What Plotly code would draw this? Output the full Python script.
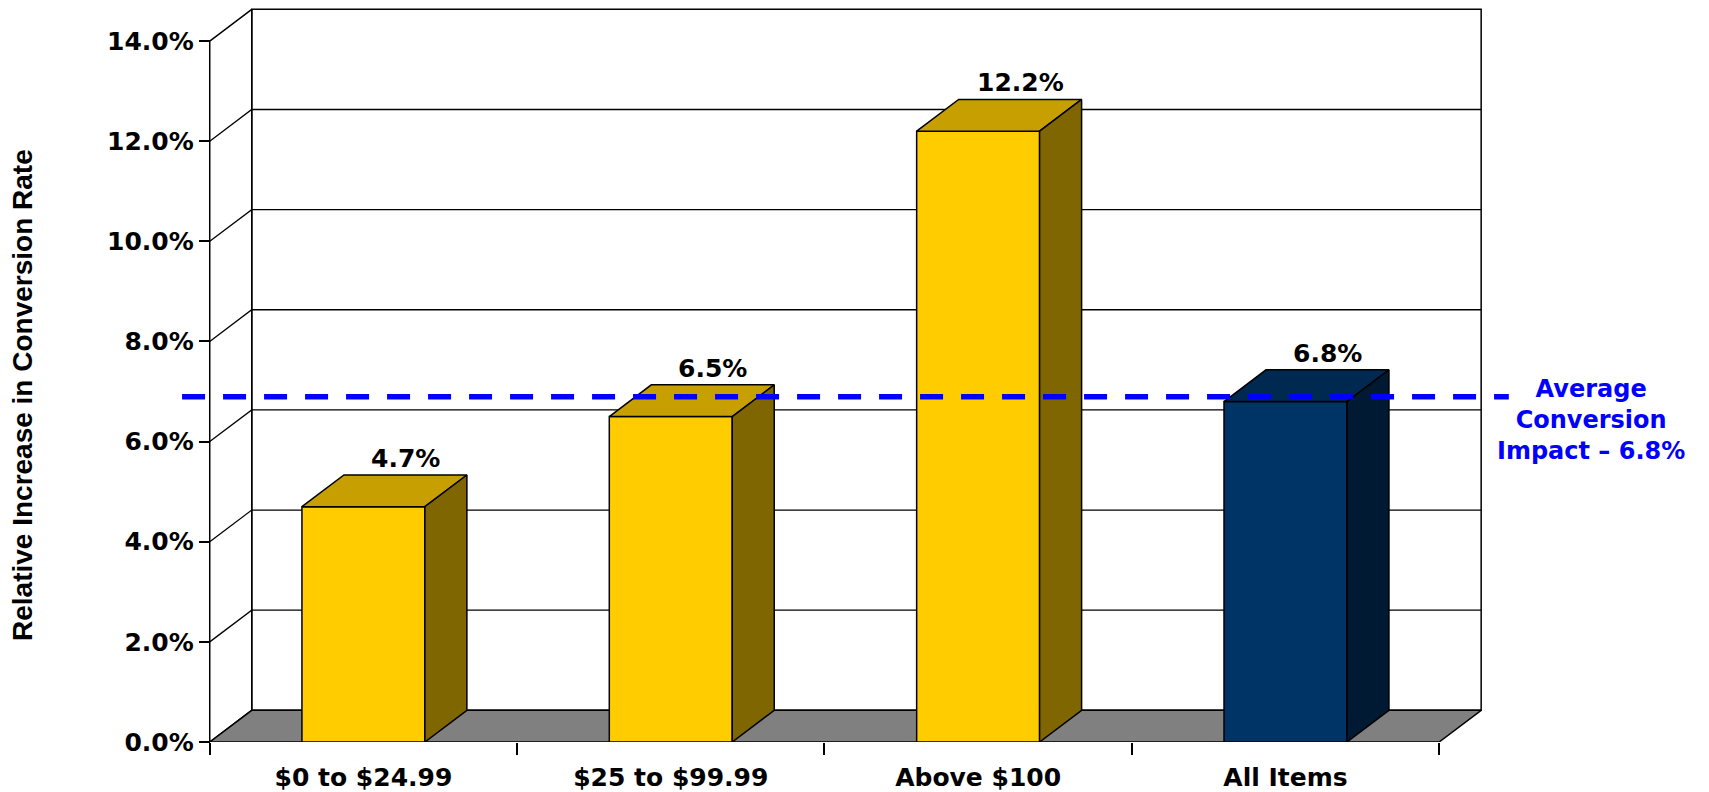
import plotly.graph_objects as go

# ---------------- data ----------------
CATEGORIES = ["$0 to $24.99", "$25 to $99.99", "Above $100", "All Items"]
VALUES = [4.7, 6.5, 12.2, 6.8]
VALUE_LABELS = ["4.7%", "6.5%", "12.2%", "6.8%"]
AVERAGE = 6.8
AVERAGE_LABEL = "Average<br>Conversion<br>Impact – 6.8%"
Y_TICKS = [0, 2, 4, 6, 8, 10, 12, 14]
Y_TITLE = "Relative Increase in Conversion Rate"

# ---------------- styles ----------------
FRONT = ["#FFCC00", "#FFCC00", "#FFCC00", "#003366"]
TOP = ["#C89F00", "#C89F00", "#C89F00", "#002952"]
SIDE = ["#806600", "#806600", "#806600", "#001A33"]
FLOOR = "#808080"
EDGE = dict(color="black", width=1.5)
FONT = "DejaVu Sans"

W, H = 1709, 792
ML, MR, MT, MB = 179, 193, 6, 50
XMIN, XMAX = -0.6, 3.75
YMIN, YMAX = 0, 14.7
PLOT_W = W - ML - MR
PLOT_H = H - MT - MB
PX_X = PLOT_W / (XMAX - XMIN)
PX_Y = PLOT_H / (YMAX - YMIN)
DX = 42 / PX_X          # depth offset in x units
DY = 31.7 / PX_Y        # depth offset in y units
BAR_W = 0.4
n = len(CATEGORIES)
XL, XR = -0.5, n - 0.5
TOPV = Y_TICKS[-1]

fig = go.Figure()


def poly(xs, ys, fill, line=EDGE):
    fig.add_trace(go.Scatter(
        x=list(xs) + [xs[0]], y=list(ys) + [ys[0]], mode="lines",
        fill="toself", fillcolor=fill, line=line, hoverinfo="skip",
        showlegend=False))


# back wall
poly([XL + DX, XR + DX, XR + DX, XL + DX], [DY, DY, TOPV + DY, TOPV + DY], "white")
# left wall
poly([XL, XL, XL + DX, XL + DX], [0, TOPV, TOPV + DY, DY], "white")
# gridlines on walls
gx, gy = [], []
for v in Y_TICKS[1:-1]:
    gx += [XL, XL + DX, XR + DX, None]
    gy += [v, v + DY, v + DY, None]
fig.add_trace(go.Scatter(x=gx, y=gy, mode="lines", line=dict(color="black", width=1.3),
                         hoverinfo="skip", showlegend=False))
# floor
poly([XL, XR, XR + DX, XL + DX], [0, 0, DY, DY], FLOOR)

# bars
for i, v in enumerate(VALUES):
    l, r = i - BAR_W / 2, i + BAR_W / 2
    poly([l, r, r, l], [0, 0, v, v], FRONT[i])
    poly([l, r, r + DX, l + DX], [v, v, v + DY, v + DY], TOP[i])
    poly([r, r + DX, r + DX, r], [0, DY, v + DY, v], SIDE[i])

# average line
AVG_Y = AVERAGE + 0.15 * DY
fig.add_trace(go.Scatter(
    x=[XL - 0.09, XR + DX + 0.09], y=[AVG_Y, AVG_Y], mode="lines",
    line=dict(color="#0000FF", width=5.5, dash="23px,18px"),
    hoverinfo="skip", showlegend=False))

annotations = []
for i, v in enumerate(VALUES):
    annotations.append(dict(
        x=i + DX, y=v + DY, xref="x", yref="y", text=VALUE_LABELS[i],
        showarrow=False, xanchor="center", yanchor="bottom",
        font=dict(family=FONT, size=25, color="black", weight="bold")))

annotations.append(dict(
    x=(1591 - ML) / PLOT_W, y=(PLOT_H + MT - 420) / PLOT_H, xref="paper", yref="paper",
    text=AVERAGE_LABEL, showarrow=False, xanchor="center", yanchor="middle",
    align="center", font=dict(family=FONT, size=24, color="#0000FF", weight="bold")))

annotations.append(dict(
    x=(23 - ML) / PLOT_W, y=(PLOT_H + MT - 395) / PLOT_H, xref="paper", yref="paper",
    text=Y_TITLE, showarrow=False, textangle=-90, xanchor="center", yanchor="middle",
    font=dict(family="Liberation Sans", size=28, color="black", weight="bold")))

yaxis_pos = (XL - XMIN) / (XMAX - XMIN)

fig.update_layout(
    width=W, height=H, margin=dict(l=ML, r=MR, t=MT, b=MB, pad=0, autoexpand=False),
    paper_bgcolor="white", plot_bgcolor="rgba(0,0,0,0)",
    showlegend=False, annotations=annotations,
    xaxis=dict(
        range=[XMIN, XMAX], showgrid=False, zeroline=False, showline=False,
        automargin=False,
        tickmode="array", tickvals=list(range(n)), ticktext=CATEGORIES,
        ticks="outside", ticklen=13, tickcolor="rgba(0,0,0,0)",
        tickfont=dict(family=FONT, size=25, color="black", weight="bold"),
        minor=dict(tickmode="array", tickvals=[k - 0.5 for k in range(n + 1)],
                   ticks="outside", ticklen=12, tickwidth=1.5, tickcolor="black",
                   showgrid=False),
        fixedrange=True),
    yaxis=dict(
        range=[YMIN, YMAX], anchor="free", position=yaxis_pos,
        showgrid=False, zeroline=False, showline=False, automargin=False,
        tickmode="array", tickvals=Y_TICKS, ticktext=[f"{v:.1f}%" for v in Y_TICKS],
        ticks="outside", ticklen=11, tickwidth=1.5, tickcolor="black",
        tickfont=dict(family=FONT, size=25, color="black", weight="bold"),
        fixedrange=True),
)

fig.write_html("out.html")
